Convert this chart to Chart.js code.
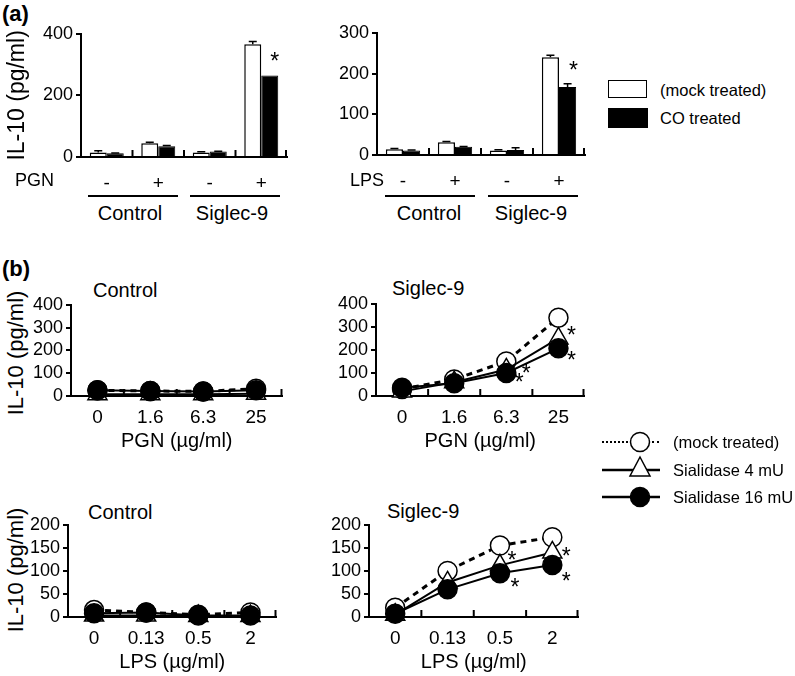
<!DOCTYPE html>
<html>
<head>
<meta charset="utf-8">
<script src="https://cdn.jsdelivr.net/npm/chart.js@4.4.1/dist/chart.umd.min.js"></script>
<style>
body { margin: 0; background: #fff; }
#fig { position: relative; width: 795px; height: 676px; overflow: hidden;
       font-family: "Liberation Sans", Arial, Helvetica, sans-serif; color: #000; }
.box { position: absolute; }
.t { position: absolute; white-space: nowrap; line-height: 1; }
.c { transform: translateX(-50%); }
.rot { transform: translate(-50%, -50%) rotate(-90deg); }
.rule { position: absolute; height: 0; border-top: 2px solid #000; }
</style>
</head>
<body>
<div id="fig">
  <div class="t" style="left:2px;top:3px;font-size:22px;font-weight:bold">(a)</div>
  <div class="t" style="left:2px;top:258px;font-size:22px;font-weight:bold">(b)</div>

  <div class="box" style="left:0px;top:20px;width:299px;height:177px"><canvas id="a1"></canvas></div>
  <div class="box" style="left:317px;top:19px;width:280px;height:176px"><canvas id="a2"></canvas></div>

  <div class="t" style="left:15px;top:171px;font-size:18px">PGN</div>
  <div class="t" style="left:350px;top:171px;font-size:18px">LPS</div>
  <div class="rule" style="left:88px;top:195px;width:90px"></div>
  <div class="rule" style="left:190px;top:195px;width:90px"></div>
  <div class="rule" style="left:385px;top:195px;width:90px"></div>
  <div class="rule" style="left:488px;top:195px;width:90px"></div>
  <div class="t c" style="left:130px;top:203px;font-size:20px">Control</div>
  <div class="t c" style="left:232px;top:203px;font-size:20px">Siglec-9</div>
  <div class="t c" style="left:429px;top:203px;font-size:20px">Control</div>
  <div class="t c" style="left:531px;top:203px;font-size:20px">Siglec-9</div>

  <div class="box" style="left:608px;top:80px;width:37px;height:16px;border:1.5px solid #000;background:#fff"></div>
  <div class="box" style="left:608px;top:108px;width:40px;height:20px;background:#000"></div>
  <div class="t" style="left:660px;top:82px;font-size:16.5px">(mock treated)</div>
  <div class="t" style="left:660px;top:110px;font-size:16.5px">CO treated</div>

  <div class="t rot" style="left:16px;top:353px;font-size:22px">IL-10 (pg/ml)</div>
  <div class="t rot" style="left:16px;top:570px;font-size:22px">IL-10 (pg/ml)</div>
  <div class="t" style="left:93px;top:280px;font-size:20px">Control</div>
  <div class="t" style="left:392px;top:278px;font-size:20px">Siglec-9</div>
  <div class="t" style="left:88px;top:502px;font-size:20px">Control</div>
  <div class="t" style="left:387px;top:501px;font-size:20px">Siglec-9</div>

  <div class="box" style="left:0px;top:291px;width:295px;height:162px"><canvas id="b1"></canvas></div>
  <div class="box" style="left:316px;top:290px;width:281px;height:163px"><canvas id="b2"></canvas></div>
  <div class="box" style="left:0px;top:511px;width:289px;height:163px"><canvas id="b3"></canvas></div>
  <div class="box" style="left:309px;top:511px;width:282px;height:163px"><canvas id="b4"></canvas></div>

  <svg class="box" style="left:595px;top:425px" width="75" height="90">
    <line x1="7" y1="17" x2="34" y2="17" stroke="#000" stroke-width="2" stroke-dasharray="2,2"/>
    <line x1="57" y1="17" x2="65" y2="17" stroke="#000" stroke-width="2" stroke-dasharray="2,3"/>
    <circle cx="45" cy="17" r="9.5" fill="#fff" stroke="#000" stroke-width="1.5"/>
    <line x1="7" y1="45" x2="65" y2="45" stroke="#000" stroke-width="2.5"/>
    <polygon points="45,32 35,51 55,51" fill="#fff" stroke="#000" stroke-width="1.5"/>
    <line x1="7" y1="72" x2="65" y2="72" stroke="#000" stroke-width="2.5"/>
    <circle cx="45" cy="72" r="9.5" fill="#000" stroke="#000" stroke-width="1.5"/>
  </svg>
  <div class="t" style="left:673px;top:434px;font-size:16.5px">(mock treated)</div>
  <div class="t" style="left:673px;top:462px;font-size:16.5px">Sialidase 4 mU</div>
  <div class="t" style="left:673px;top:489px;font-size:16.5px">Sialidase 16 mU</div>
</div>

<script>
// (a) IL-10 bars, mock vs CO treated
const groupsA = ["-", "+", "-", "+"];
const pgnMock = [15, 45, 15, 366];
const pgnMockErr = [5, 3, 2, 9];
const pgnCO = [12, 35, 18, 265];
const pgnCOErr = [1, 2, 1, 0];
const lpsMock = [14, 31, 11, 240];
const lpsMockErr = [2, 2, 2, 5];
const lpsCO = [11, 20, 12, 167];
const lpsCOErr = [1, 1, 6, 8];

// (b) dose response with sialidase
const pgnDoses = ["0", "1.6", "6.3", "25"];
const lpsDoses = ["0", "0.13", "0.5", "2"];
const ctrlPgnMock = [25, 22, 20, 32];
const ctrlPgn4 = [8, 8, 8, 10];
const ctrlPgn16 = [25, 22, 20, 25];
const sigPgnMock = [30, 72, 150, 340];
const sigPgn4 = [20, 60, 115, 250];
const sigPgn16 = [36, 55, 100, 207];
const ctrlLpsMock = [15, 10, 5, 10];
const ctrlLps4 = [3, 3, 2, 2];
const ctrlLps16 = [8, 10, 3, 3];
const sigLpsMock = [20, 100, 155, 173];
const sigLps4 = [5, 75, 112, 140];
const sigLps16 = [7, 60, 95, 113];

const FONT = '"Liberation Sans", Arial, Helvetica, sans-serif';
Chart.defaults.font.family = FONT;
Chart.defaults.color = "#000";

// upward ticks between categories and at the right end of the x axis
const innerTicks = {
    id: "innerTicks",
    afterDraw(chart) {
        const x = chart.scales.x, ctx = chart.ctx, b = chart.chartArea.bottom;
        const n = x.ticks.length;
        ctx.save();
        ctx.strokeStyle = "#000";
        ctx.lineWidth = 2;
        for (let i = 1; i <= n; i++) {
            const px = i < n ? (x.getPixelForTick(i - 1) + x.getPixelForTick(i)) / 2 : chart.chartArea.right - 1;
            ctx.beginPath();
            ctx.moveTo(px, b);
            ctx.lineTo(px, b - 7);
            ctx.stroke();
        }
        ctx.restore();
    }
};

const errorBars = {
    id: "errorBars",
    afterDatasetsDraw(chart) {
        const ctx = chart.ctx, y = chart.scales.y;
        ctx.save();
        ctx.strokeStyle = "#000";
        ctx.lineWidth = 1.5;
        chart.data.datasets.forEach((ds, di) => {
            if (!ds.errors) return;
            chart.getDatasetMeta(di).data.forEach((bar, i) => {
                if (!ds.errors[i]) return;
                const top = y.getPixelForValue(ds.data[i] + ds.errors[i]);
                ctx.beginPath();
                ctx.moveTo(bar.x, bar.y);
                ctx.lineTo(bar.x, top);
                ctx.moveTo(bar.x - 4, top);
                ctx.lineTo(bar.x + 4, top);
                ctx.stroke();
            });
        });
        ctx.restore();
    }
};

const stars = {
    id: "stars",
    afterDatasetsDraw(chart, args, opts) {
        if (!opts || !opts.marks) return;
        const ctx = chart.ctx;
        ctx.save();
        ctx.font = "23px " + FONT;
        ctx.textAlign = "center";
        ctx.textBaseline = "middle";
        ctx.fillStyle = "#000";
        opts.marks.forEach(m => {
            const p = chart.getDatasetMeta(m.ds).data[m.i];
            ctx.fillText("*", p.x + m.dx, p.y + m.dy + 5);
        });
        ctx.restore();
    }
};

Chart.register(innerTicks, errorBars, stars);

function yScale(max, step, yw, title) {
    return {
        min: 0, max: max,
        ticks: { stepSize: step, autoSkip: false, font: { size: 18 }, padding: 3, color: "#000" },
        grid: { drawOnChartArea: false, drawTicks: true, tickLength: 5, color: "#000", lineWidth: 2 },
        border: { display: true, color: "#000", width: 2 },
        title: { display: !!title, text: title, font: { size: 23 }, padding: { top: 4, bottom: 0 } },
        afterFit(s) { s.width = yw; }
    };
}

function xScale(xh, title, pad) {
    return {
        offset: true,
        ticks: { font: { size: 19 }, padding: pad, autoSkip: false, color: "#000", maxRotation: 0 },
        grid: { display: false },
        border: { display: true, color: "#000", width: 2 },
        title: { display: !!title, text: title, font: { size: 20 }, padding: 0 },
        afterFit(s) { s.height = xh; }
    };
}

function barChart(id, mock, mockErr, co, coErr, max, step, yw, title, marks) {
    new Chart(document.getElementById(id), {
        type: "bar",
        data: {
            labels: groupsA,
            datasets: [
                { data: mock, errors: mockErr, backgroundColor: "#fff", borderColor: "#000", borderWidth: 1.5,
                  categoryPercentage: 0.66, barPercentage: 1.0 },
                { data: co, errors: coErr, backgroundColor: "#000", borderColor: "#000", borderWidth: 1,
                  categoryPercentage: 0.66, barPercentage: 1.0 }
            ]
        },
        options: {
            responsive: true,
            maintainAspectRatio: false,
            animation: false,
            layout: { padding: { top: 12, right: 12, left: 0, bottom: 0 } },
            scales: { x: xScale(40, "", 7), y: yScale(max, step, yw, title) },
            plugins: { legend: { display: false }, tooltip: { enabled: false }, stars: { marks: marks } }
        }
    });
}

function lineChart(id, labels, mock, s4, s16, max, step, yw, xTitle, marks) {
    new Chart(document.getElementById(id), {
        type: "line",
        data: {
            labels: labels,
            datasets: [
                { data: mock, borderColor: "#000", borderWidth: 3, borderDash: [6, 5],
                  pointStyle: "circle", pointRadius: 9.5, pointBackgroundColor: "#fff",
                  pointBorderColor: "#000", pointBorderWidth: 1.5, order: 3, clip: false, fill: false, tension: 0 },
                { data: s4, borderColor: "#000", borderWidth: 2,
                  pointStyle: "triangle", pointRadius: 11, pointBackgroundColor: "#fff",
                  pointBorderColor: "#000", pointBorderWidth: 1.5, order: 2, clip: false, fill: false, tension: 0 },
                { data: s16, borderColor: "#000", borderWidth: 2,
                  pointStyle: "circle", pointRadius: 9.5, pointBackgroundColor: "#000",
                  pointBorderColor: "#000", pointBorderWidth: 1.5, order: 1, clip: false, fill: false, tension: 0 }
            ]
        },
        options: {
            responsive: true,
            maintainAspectRatio: false,
            animation: false,
            layout: { padding: { top: 12, right: 12, left: 0, bottom: 0 } },
            scales: { x: xScale(57, xTitle, 2), y: yScale(max, step, yw, "") },
            plugins: { legend: { display: false }, tooltip: { enabled: false }, stars: { marks: marks } }
        }
    });
}

barChart("a1", pgnMock, pgnMockErr, pgnCO, pgnCOErr, 400, 200, 81, "IL-10 (pg/ml)",
         [{ ds: 1, i: 3, dx: 5, dy: -18 }]);
barChart("a2", lpsMock, lpsMockErr, lpsCO, lpsCOErr, 300, 100, 60, "",
         [{ ds: 1, i: 3, dx: 6, dy: -20 }]);

lineChart("b1", pgnDoses, ctrlPgnMock, ctrlPgn4, ctrlPgn16, 400, 100, 71, "PGN (\u00b5g/ml)", []);
lineChart("b2", pgnDoses, sigPgnMock, sigPgn4, sigPgn16, 400, 100, 60, "PGN (\u00b5g/ml)",
          [{ ds: 1, i: 3, dx: 13, dy: -7 }, { ds: 2, i: 3, dx: 13, dy: 8 },
           { ds: 1, i: 2, dx: 20, dy: 0 }, { ds: 2, i: 2, dx: 13, dy: 6 }]);
lineChart("b3", lpsDoses, ctrlLpsMock, ctrlLps4, ctrlLps16, 200, 50, 68, "LPS (\u00b5g/ml)", []);
lineChart("b4", lpsDoses, sigLpsMock, sigLps4, sigLps16, 200, 50, 60, "LPS (\u00b5g/ml)",
          [{ ds: 1, i: 2, dx: 12, dy: -9 }, { ds: 2, i: 2, dx: 15, dy: 10 },
           { ds: 1, i: 3, dx: 14, dy: 0 }, { ds: 2, i: 3, dx: 14, dy: 13 }]);
</script>
</body>
</html>
